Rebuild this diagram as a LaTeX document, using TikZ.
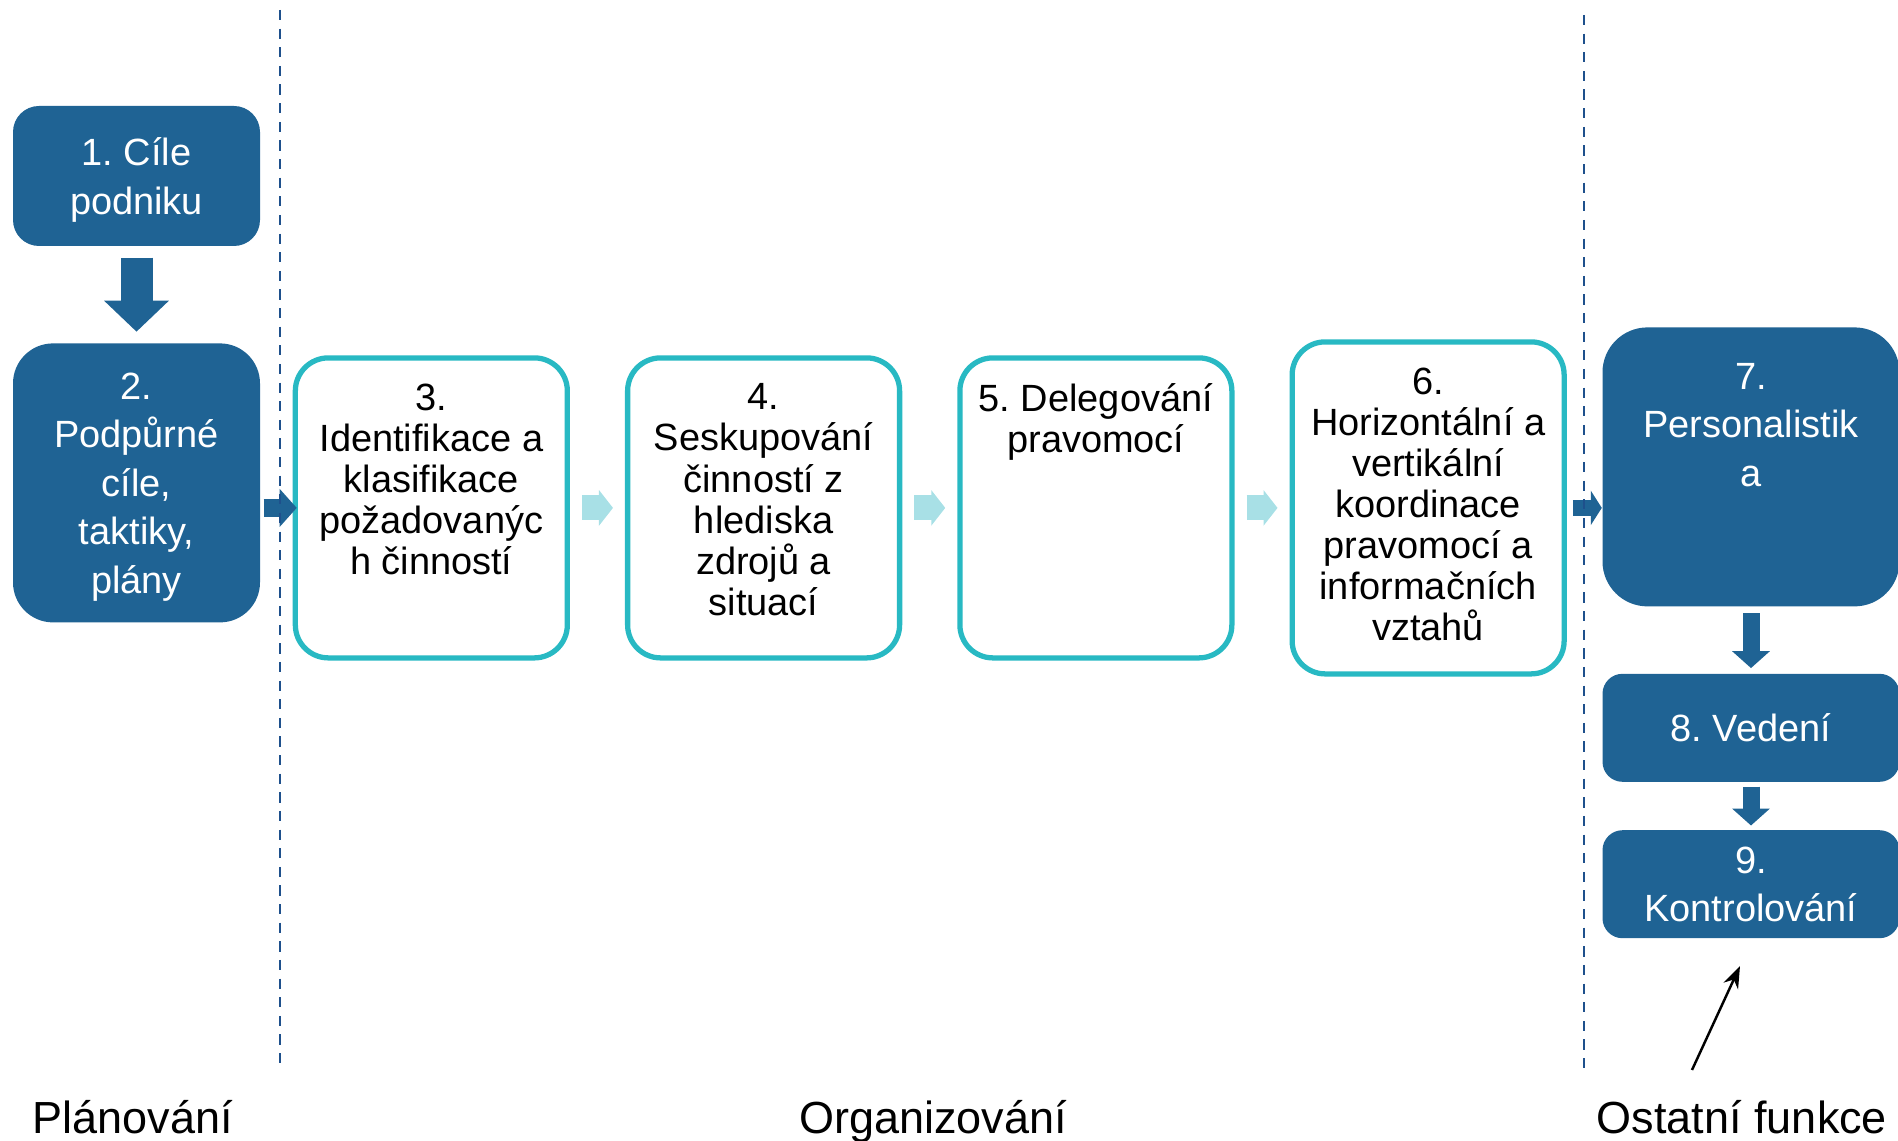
\documentclass[tikz,border=0pt]{standalone}
\usepackage{fontspec}
\setmainfont{Liberation Sans}
\usetikzlibrary{arrows.meta, positioning}
\definecolor{boxblue}{RGB}{31,99,148}
\definecolor{frameteal}{RGB}{40,185,195}
\definecolor{paleteal}{RGB}{168,224,230}
\definecolor{lineblue}{RGB}{30,80,140}

\begin{document}
\frenchspacing
\begin{tikzpicture}[
    darkbox/.style={rectangle, rounded corners=#1, fill=boxblue, text=white, align=center,
        minimum width=2.47cm, inner sep=0pt, text depth=0pt, font=\fontsize{10.8}{13.8}\selectfont},
    darkbox/.default=0.2cm,
    whitetext/.style={align=center, text=white, font=\fontsize{10.8}{13.8}\selectfont},
    stepbox/.style={rectangle, rounded corners=0.33cm, draw=frameteal, line width=1.5pt, fill=white,
        minimum width=2.72cm, minimum height=3.00cm},
    steptext/.style={align=center, font=\fontsize{10.8}{11.7}\selectfont},
    bigarrow/.style={boxblue, line width=0.32cm, -{Triangle[width=0.63cm, length=0.31cm]}},
    smallarrow/.style={boxblue, line width=0.17cm, -{Triangle[width=0.37cm, length=0.17cm]}},
    palearrow/.style={paleteal, line width=0.25cm, -{Triangle[width=0.35cm, length=0.14cm]},
        shorten <=0.12cm, shorten >=0.12cm},
    divider/.style={lineblue, line width=0.8pt, dash pattern=on 2.9pt off 2.4pt},
    phase/.style={font=\fontsize{12.8}{15}\selectfont, anchor=base}]

    \useasboundingbox (0,0) rectangle (18.98,-11.41);

    \node[darkbox=0.26cm, minimum height=1.40cm] (goals) at (1.365,-1.76) {1. Cíle\\podniku};
    \node[darkbox=0.40cm, minimum height=2.79cm, below=0.96cm of goals] (support)
        {2.\\Podpůrné\\cíle,\\taktiky,\\plány};

    \node[stepbox, right=0.32cm of support, yshift=-0.25cm] (identify) {};
    \node[stepbox, right=0.55cm of identify] (group) {};
    \node[stepbox, right=0.55cm of group] (delegate) {};
    \node[stepbox, right=0.55cm of delegate, minimum height=3.32cm] (coord) {};

    \node[steptext, below=0.16cm of identify.north] (identify-t)
        {3.\\Identifikace a\\klasifikace\\požadovanýc\\h činností};
    \node[steptext, below=0.16cm of group.north] (group-t)
        {4.\\Seskupování\\činností z\\hlediska\\zdrojů a\\situací};
    \node[steptext, below=0.16cm of delegate.north] (delegate-t) {5. Delegování\\pravomocí};
    \node[steptext, below=0.16cm of coord.north] (coord-t)
        {6.\\Horizontální a\\vertikální\\koordinace\\pravomocí a\\informačních\\vztahů};

    \node[darkbox=0.45cm, minimum width=2.97cm, minimum height=2.79cm,
        right=0.35cm of coord, yshift=0.41cm] (staff) {};
    \node[whitetext, below=0.24cm of staff.north] (staff-t) {7.\\Personalistik\\a};
    \node[darkbox=0.2cm, minimum width=2.97cm, minimum height=1.08cm, below=0.66cm of staff] (lead)
        {8. Vedení};
    \node[darkbox=0.2cm, minimum width=2.97cm, minimum height=1.08cm, below=0.47cm of lead] (control)
        {9.\\Kontrolování};

    \draw[bigarrow, shorten <=0.11cm, shorten >=0.11cm] (goals) -- (support);
    \draw[smallarrow, line width=0.18cm, shorten <=0.03cm, shorten >=-0.04cm]
        (identify.west -| support.east) -- (identify.west);
    \draw[palearrow] (identify) -- (group);
    \draw[palearrow] (group) -- (delegate);
    \draw[palearrow] (delegate) -- (coord);
    \draw[smallarrow, line width=0.16cm, -{Triangle[width=0.34cm, length=0.11cm]}, shorten <=0.06cm]
        (coord.east) -- (coord.east -| staff.west);
    \draw[smallarrow, shorten <=0.06cm, shorten >=0.05cm] (staff) -- (lead);
    \draw[smallarrow, shorten <=0.04cm, shorten >=0.04cm] (lead) -- (control);

    \coordinate (cut1top) at (2.80,-0.10);
    \coordinate (cut1bot) at (2.80,-10.65);
    \coordinate (cut2top) at (15.84,-0.15);
    \coordinate (cut2bot) at (15.84,-10.68);
    \draw[divider] (cut1top) -- (cut1bot);
    \draw[divider] (cut2top) -- (cut2bot);

    \coordinate (hintfrom) at (16.92,-10.70);
    \coordinate (hintto) at (17.40,-9.66);
    \draw[line width=0.7pt, -{Stealth[length=2.2mm, width=1.6mm]}] (hintfrom) -- (hintto);

    \node[phase] (planning) at (1.33,-11.34) {Plánování};
    \node[phase] (organizing) at (9.33,-11.34) {Organizování};
    \node[phase] (other) at (17.42,-11.34) {Ostatní funkce};
\end{tikzpicture}
\end{document}
